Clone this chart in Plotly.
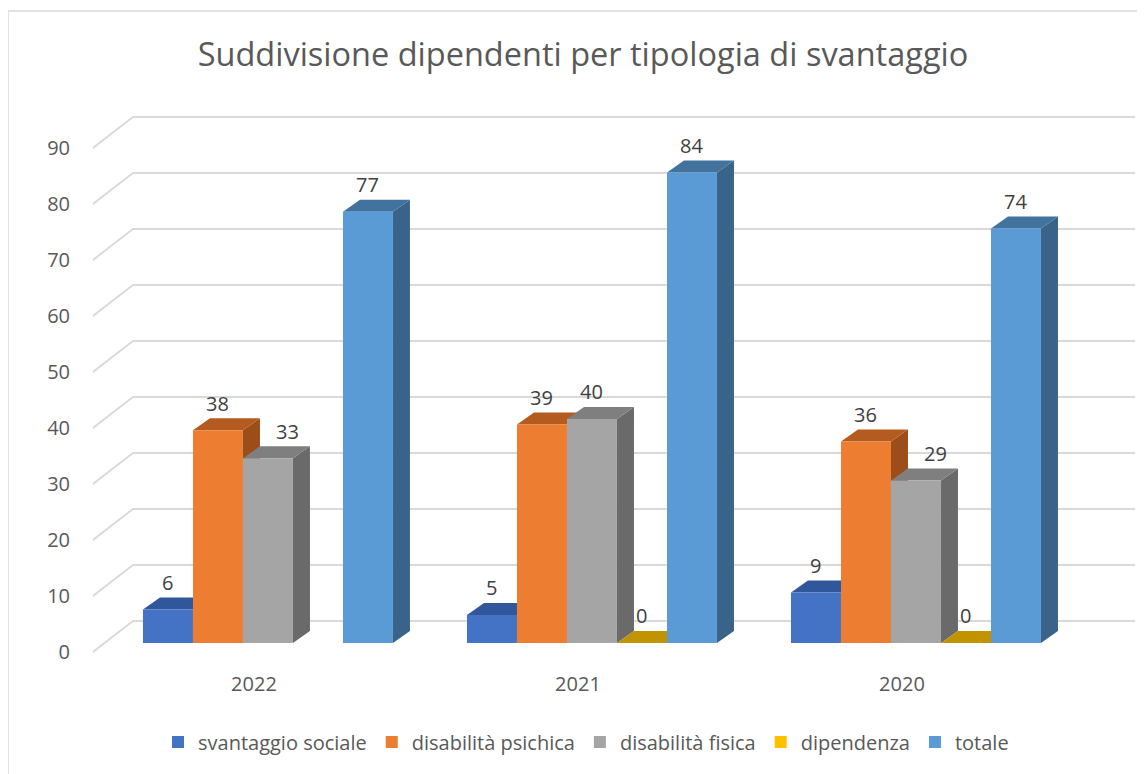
import plotly.graph_objects as go

# ---------------- data ----------------
years = ["2022", "2021", "2020"]
series_names = ["svantaggio sociale", "disabilità psichica", "disabilità fisica", "dipendenza", "totale"]
svantaggio_sociale = [6, 5, 9]
disabilita_psichica = [38, 39, 36]
disabilita_fisica = [33, 40, 29]
dipendenza = [None, 0, 0]
totale = [77, 84, 74]
y_ticks = list(range(0, 100, 10))
title_text = "Suddivisione dipendenti per tipologia di svantaggio"

series_values = [svantaggio_sociale, disabilita_psichica, disabilita_fisica, dipendenza, totale]

# ---------------- styles ----------------
front_colors = ["#4472C4", "#ED7D31", "#A5A5A5", "#FFC000", "#5B9BD5"]
top_colors = ["#30569B", "#B45B20", "#7F7F7F", "#C29300", "#42739F"]
side_colors = ["#294B85", "#9B4D1A", "#6A6A6A", "#A07800", "#3A6389"]
grid_color = "#D9D9D9"
text_color = "#595959"
label_color = "#404040"
FONT = "Open Sans"

OFF = 8  # page body margin
WIN_W, WIN_H = 1145, 774
W, H = WIN_W - OFF, WIN_H - OFF
# plot area in window pixels: x 93..1135, y 100..660
PL, PR, PT, PB = 93, 1135, 100, 660
ML, MT = PL - OFF, PT - OFF
MR, MB = W - (PR - OFF), H - (PB - OFF)
X_RANGE = [-0.540, 2.676]
Y_RANGE = [-3.04, 96.96]
pw = PR - PL
ph = PB - PT
px_x = pw / (X_RANGE[1] - X_RANGE[0])
px_y = ph / (Y_RANGE[1] - Y_RANGE[0])

n_series = len(series_names)
group_w = 250 / px_x
bw = group_w / n_series
DX = 17 / px_x          # depth offset of bars (data units)
DY = 12 / px_y
GRID_FRONT = -9 / px_y  # front-left end of gridlines relative to value
GRID_BACK = 22 / px_y   # back wall gridline relative to value
GRID_BACK_X = X_RANGE[0] + 40 / px_x
XLABEL_SHIFT = -14 / px_x
LABEL_NUDGE_PX = 20     # label moved right when the bar to the left is slightly taller

xs = list(range(len(years)))

fig = go.Figure()
shapes = []

# perspective gridlines
for v in y_ticks:
    shapes.append(dict(
        type="path", layer="below",
        path=f"M {X_RANGE[0]},{v + GRID_FRONT} L {GRID_BACK_X},{v + GRID_BACK} L {X_RANGE[1]},{v + GRID_BACK}",
        line=dict(color=grid_color, width=1.8),
    ))

annotations = []
for k, (name, vals) in enumerate(zip(series_names, series_values)):
    off = -group_w / 2 + k * bw
    fig.add_trace(go.Bar(
        x=xs, y=vals, name=name, width=bw, offset=off,
        marker=dict(color=front_colors[k], line=dict(width=0)),
        hoverinfo="name+y",
    ))
    for i, v in enumerate(vals):
        if v is None:
            continue
        xl = xs[i] + off
        xr = xl + bw
        if v > 0:
            shapes.append(dict(
                type="path", layer="below",
                path=f"M {xr},0 L {xr},{v} L {xr + DX},{v + DY} L {xr + DX},{DY} Z",
                fillcolor=side_colors[k], line=dict(width=0),
            ))
        shapes.append(dict(
            type="path", layer="below",
            path=f"M {xl},{v} L {xr},{v} L {xr + DX},{v + DY} L {xl + DX},{v + DY} Z",
            fillcolor=top_colors[k], line=dict(width=0),
        ))
        prev = series_values[k - 1][i] if k > 0 else None
        nudge = LABEL_NUDGE_PX if (prev is not None and v < prev < v + 8) else 0
        annotations.append(dict(
            x=(xl + xr) / 2, y=v + DY, text=str(v), showarrow=False,
            yanchor="middle", yshift=15, xshift=nudge,
            font=dict(family=FONT, size=20, color=label_color),
        ))

# chart border (window pixels: left 8, top 11)
shapes.append(dict(
    type="rect", xref="paper", yref="paper", layer="below",
    x0=(8 - PL) / pw, x1=(WIN_W + 20 - PL) / pw,
    y0=(PB - (WIN_H + 20)) / ph, y1=(PB - 11) / ph,
    line=dict(color=grid_color, width=1.5), fillcolor="rgba(0,0,0,0)",
))

fig.update_layout(
    width=W, height=H,
    margin=dict(l=ML, r=MR, t=MT, b=MB, pad=0),
    paper_bgcolor="white", plot_bgcolor="white",
    barmode="overlay",
    shapes=shapes, annotations=annotations,
    title=dict(text=title_text, x=(583 - OFF) / W, xanchor="center", xref="container",
               y=1 - (55 - OFF) / H, yanchor="middle", yref="container",
               font=dict(family=FONT, size=32.5, color=text_color)),
    xaxis=dict(range=X_RANGE, showgrid=False, zeroline=False, showline=False,
               tickvals=[x + XLABEL_SHIFT for x in xs], ticktext=years,
               ticks="", ticklabelstandoff=10,
               tickfont=dict(family=FONT, size=20, color=text_color), fixedrange=True),
    yaxis=dict(range=Y_RANGE, showgrid=False, zeroline=False, showline=False,
               tickvals=[v + GRID_FRONT for v in y_ticks], ticktext=[str(v) for v in y_ticks],
               ticks="", ticklabelstandoff=22,
               tickfont=dict(family=FONT, size=20, color=text_color), fixedrange=True),
    legend=dict(orientation="h", x=(586 - PL) / pw, xanchor="center",
                y=(PB - 742) / ph, yanchor="middle",
                font=dict(family=FONT, size=20, color=text_color),
                itemwidth=30, tracegroupgap=0),
    showlegend=True,
)

fig.write_html("out.html")
